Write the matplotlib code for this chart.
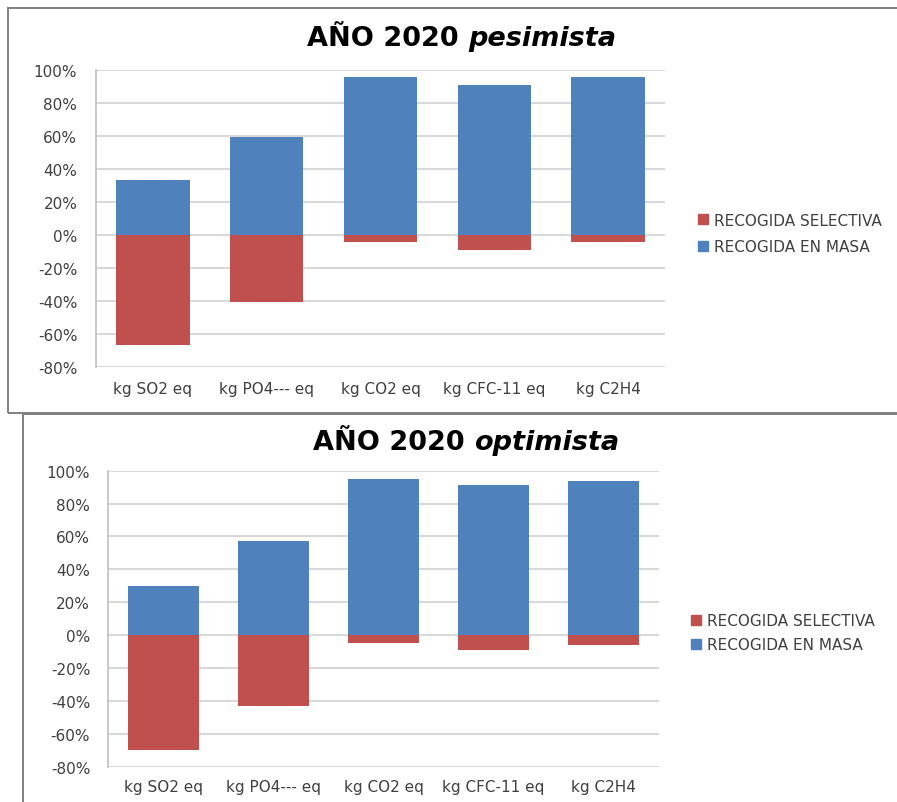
import numpy as np
import matplotlib.pyplot as plt
from matplotlib.patches import Rectangle, Patch

W, H = 897, 803

categorias = ['kg SO2 eq', 'kg PO4--- eq', 'kg CO2 eq', 'kg CFC-11 eq', 'kg C2H4']

# porcentajes (%) escenario pesimista
pes_masa = [33, 59, 95.5, 91, 95.5]
pes_selectiva = [-67, -41, -4.5, -9, -4.5]

# porcentajes (%) escenario optimista
opt_masa = [30, 57, 95, 91, 94]
opt_selectiva = [-70, -43, -5, -9, -6]

AZUL = '#4F81BD'
ROJO = '#C0504D'
GRIS_TXT = '#404040'

plt.rcParams['font.family'] = ['DejaVu Sans']

fig = plt.figure(figsize=(W / 100, H / 100), dpi=100)


def fx(x):
  return x / W


def fy(y):
  return 1 - y / H


def marco(x0, y0, x1, y1):
  fig.add_artist(Rectangle((fx(x0), fy(y1)), fx(x1) - fx(x0), fy(y0) - fy(y1),
                           transform=fig.transFigure, fill=False,
                           edgecolor='#808080', lw=1.4))


def grafico(caja, masa, selectiva, titulo_y, titulo_x0, parte2, ley_x, ley_y,
            pad_y, pad_x, espacio, sep):
  x0, y0, x1, y1 = caja
  ax = fig.add_axes([fx(x0), fy(y1), fx(x1) - fx(x0), fy(y0) - fy(y1)])
  pos = np.arange(len(categorias))
  ax.bar(pos, masa, width=0.645, color=AZUL, zorder=3)
  ax.bar(pos, selectiva, width=0.645, color=ROJO, zorder=3)

  ax.set_xlim(-0.5, len(categorias) - 0.5)
  ax.set_ylim(-80, 100)
  ax.set_yticks(np.arange(-80, 101, 20))
  ax.set_yticklabels(['%d%%' % v for v in np.arange(-80, 101, 20)])
  ax.set_xticks(pos)
  ax.set_xticklabels(categorias)
  ax.tick_params(axis='y', length=0, pad=pad_y, labelsize=11, labelcolor=GRIS_TXT)
  ax.tick_params(axis='x', length=0, pad=pad_x, labelsize=11, labelcolor=GRIS_TXT)

  ax.grid(axis='y', color='#d9d9d9', lw=1.5, zorder=0)
  for s in ['top', 'right', 'bottom']:
    ax.spines[s].set_visible(False)
  ax.spines['left'].set_color('#c4c4c4')
  ax.spines['left'].set_linewidth(1.3)

  t1 = fig.text(fx(titulo_x0), fy(titulo_y), 'AÑO 2020', fontsize=19.5,
                fontweight='bold', va='baseline', ha='left')
  ax.annotate(parte2, xy=(1, 0), xycoords=t1, xytext=(espacio, 0),
              textcoords='offset points', fontsize=19.5, fontweight='bold',
              fontstyle='italic', va='bottom', ha='left',
              annotation_clip=False)

  handles = [Patch(color=ROJO), Patch(color=AZUL)]
  etiquetas = ['RECOGIDA SELECTIVA', 'RECOGIDA EN MASA']
  fig.legend(handles, etiquetas, loc='center left',
             bbox_to_anchor=(fx(ley_x), fy(ley_y)), frameon=False,
             borderpad=0, borderaxespad=0, fontsize=11,
             handlelength=0.65, handleheight=0.6, handletextpad=0.4,
             labelspacing=sep, labelcolor=GRIS_TXT)
  return ax


marco(8, 9, 900, 414)
marco(23, 415, 900, 806)

grafico((96, 70.7, 665, 367.7), pes_masa, pes_selectiva,
        46, 307, 'pesimista', 697.7, 234.5, 13.5, 10.5, 7, 0.78)
grafico((108.3, 471.7, 658.7, 767.7), opt_masa, opt_selectiva,
        450, 313, 'optimista', 690.7, 633.7, 13, 9, 7, 0.6)

fig.savefig('out.png', dpi=100)
